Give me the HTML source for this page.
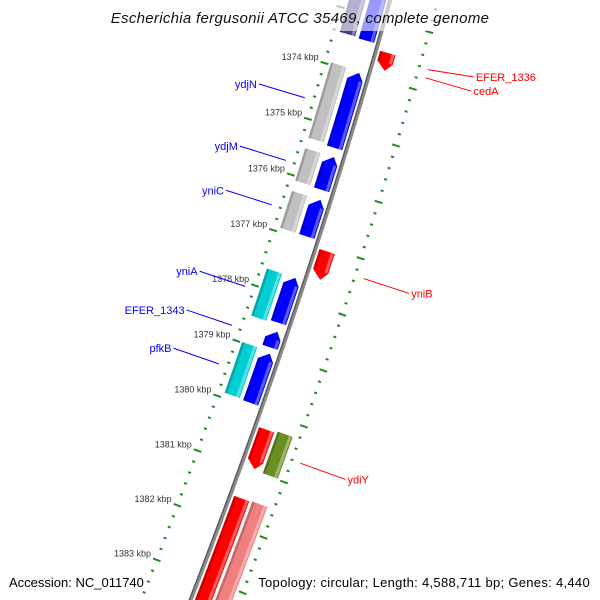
<!DOCTYPE html>
<html><head><meta charset="utf-8"><style>
html,body{margin:0;padding:0;background:#fff;width:600px;height:600px;overflow:hidden;}
svg{display:block;font-family:"Liberation Sans","DejaVu Sans",sans-serif;}
</style></head><body>
<svg id="map" width="600" height="600" viewBox="0 0 600 600">
<g id="features"></g>
<g id="rulers"></g>
<g id="labels"></g>
<rect x="105" y="0" width="390" height="31" fill="#fff" opacity="0.6"/>
<text x="300" y="23" text-anchor="middle" font-size="15" letter-spacing="0.3" font-style="italic" fill="#111">Escherichia fergusonii ATCC 35469, complete genome</text>
<text x="9" y="587" font-size="13" fill="#000">Accession: NC_011740</text>
<text x="590" y="587" text-anchor="end" font-size="13" letter-spacing="0.3" fill="#000">Topology: circular; Length: 4,588,711 bp; Genes: 4,440</text>
</svg>
<script>
// ---- data ----
const featNames  = ["top-cds","ydjN","ydjM","yniC","yniA","EFER_1343","pfkB",
                    "top-gene","ydjN-gene","ydjM-gene","yniC-gene","yniA-gene","pfkB-gene",
                    "EFER_1336","cedA","yniB","red-cds","big-red-cds","ydiY","pink-gene"];
const featStart  = [1372200,1373996,1375495,1376262,1377659,1378630,1379022,
                    1372200,1373962,1375495,1376262,1377659,1378988,
                    1373535,1373680,1377063,1380266,1381510,1380232,1381493];
const featEnd    = [1373434,1375342,1376092,1376926,1378477,1378920,1379926,
                    1373416,1375308,1376075,1376926,1378511,1379908,
                    1373700,1373842,1377557,1380965,1384816,1380982,1384816];
const featTrack  = ["A","A","A","A","A","A","A","B","B","B","B","B","B","C","C","C","C","C","D","D"];
const featStrand = [-1,-1,-1,-1,-1,-1,-1,0,0,0,0,0,0,0,1,1,1,1,0,0];
const featColor  = ["#0000ff","#0000ff","#0000ff","#0000ff","#0000ff","#0000ff","#0000ff",
                    "#483d8b","#c0c0c0","#c0c0c0","#c0c0c0","#00ced1","#00ced1",
                    "#ff0000","#ff0000","#ff0000","#ff0000","#ff0000","#6b8e23","#f08080"];
const labelTexts = ["ydjN","ydjM","yniC","yniA","EFER_1343","pfkB","EFER_1336","cedA","yniB","ydiY"];
const labelFeat  = [1,2,3,4,5,6,13,14,15,18];
const labelDy    = [0,0,0,0,0,0,-6,0,0,0];
const rulerStart = 1372000, rulerEnd = 1385000, majorStep = 1000, minorStep = 200;

// ---- geometry ----
const NS="http://www.w3.org/2000/svg";
const PX=0.0587, BP0=1378000, R0=6500, PHI=18.4*Math.PI/180, MX=298.6, MY=300;
const CX=MX-R0*Math.cos(PHI), CY=MY-R0*Math.sin(PHI);
const trackR={A:[-20,-4],B:[-40,-24],C:[4,20],D:[23,39]};
function pt(bp,r){const s=(bp-BP0)*PX;const a=PHI+s/R0;const rr=R0+r;return [CX+rr*Math.cos(a),CY+rr*Math.sin(a)];}
function sToBp(ds){return ds/PX;}
function mk(tag,attrs){const e=document.createElementNS(NS,tag);for(const k in attrs)e.setAttribute(k,attrs[k]);return e;}
function bandPts(b0,b1,r1,r2){const pts=[];const n=Math.max(2,Math.ceil((b1-b0)*PX/10));
  for(let i=0;i<=n;i++)pts.push(pt(b0+(b1-b0)*i/n,r1));
  for(let i=n;i>=0;i--)pts.push(pt(b0+(b1-b0)*i/n,r2));return pts;}
function ptsStr(p){return p.map(q=>q[0].toFixed(1)+","+q[1].toFixed(1)).join(" ");}

const fg=document.getElementById("features");
const bb=[];for(let b=1371500;b<=1385000;b+=200)bb.push(pt(b,0));
const bbl=mk("polyline",{points:ptsStr(bb),fill:"none",stroke:"#8a8a8a","stroke-width":4});


fg.appendChild(bbl);
const bb2=[];for(let b=1371500;b<=1385000;b+=200)bb2.push(pt(b,-1.3));
const bbd=mk("polyline",{points:ptsStr(bb2),fill:"none",stroke:"#5a5a5a","stroke-width":1.3});


fg.appendChild(bbd);

for(let i=0;i<featNames.length;i++){
  const [r1,r2]=trackR[featTrack[i]];const rm=(r1+r2)/2;
  let b0=featStart[i],b1=featEnd[i];const h=sToBp(8);
  let poly;
  const g=mk("g",{});
  
  
  if(featStrand[i]===-1){
    const body=bandPts(b0+h,b1,r1,r2);
    poly=[pt(b0,rm+2)].concat(body);
    b0=b0+h;
  }else if(featStrand[i]===1){
    const body=bandPts(b0,b1-h,r1,r2);
    const half=body.length/2;
    poly=body.slice(0,half).concat([pt(b1,rm+2)]).concat(body.slice(half));
    b1=b1-h;
  }else{poly=bandPts(b0,b1,r1,r2);}
  g.appendChild(mk("polygon",{points:ptsStr(poly),fill:featColor[i]}));
  g.appendChild(mk("polygon",{points:ptsStr(bandPts(b0,b1,r1,r1+2.5)),fill:"#000",opacity:0.18}));
  g.appendChild(mk("polygon",{points:ptsStr(bandPts(b0,b1,r2-4,r2-1)),fill:"#fff",opacity:0.35}));
  fg.appendChild(g);
}

// rulers
const rg=document.getElementById("rulers");
[-46,46].forEach((rr,ri)=>{
  for(let b=rulerStart;b<=rulerEnd;b+=minorStep){
    const major=(b%majorStep===0);
    const a=pt(b,rr-(major?4:1.5)),c=pt(b,rr+(major?4:1.5));
    const t=mk("line",{x1:a[0],y1:a[1],x2:c[0],y2:c[1],stroke:"#228b22","stroke-width":2});
    
    
    rg.appendChild(t);
    if(major&&ri===0&&a[1]>20){
      const tx=mk("text",{x:(a[0]-2).toFixed(1),y:(a[1]-2).toFixed(1),"text-anchor":"end","font-size":9,fill:"#333"});
      tx.textContent=(b/1000)+" kbp";
      
      
      rg.appendChild(tx);
    }
  }
});

// labels
const lg=document.getElementById("labels");
for(let j=0;j<labelTexts.length;j++){
  const i=labelFeat[j];const mid=(featStart[i]+featEnd[i])/2;
  const left=featTrack[i]==="A"||featTrack[i]==="B";const sg=left?-1:1;
  const p0=pt(mid,sg*55),p1=pt(mid,sg*103);p1[1]+=labelDy[j];
  const col=left?"#0000ff":"#ff0000";
  const ln=mk("line",{x1:p0[0],y1:p0[1],x2:p1[0],y2:p1[1],stroke:col,"stroke-width":1});
  
  
  lg.appendChild(ln);
  const tx=mk("text",{x:(p1[0]+sg*2).toFixed(1),y:(p1[1]+4).toFixed(1),"text-anchor":left?"end":"start","font-size":11,fill:col});
  tx.textContent=labelTexts[j];
  
  
  lg.appendChild(tx);
}
</script>
</body></html>
